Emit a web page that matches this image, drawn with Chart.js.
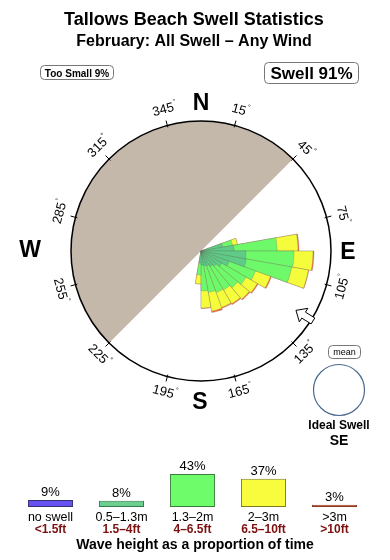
<!DOCTYPE html>
<html>
<head>
<meta charset="utf-8">
<script src="https://cdn.jsdelivr.net/npm/chart.js@4"></script>
<style>
    html, body { margin: 0; padding: 0; background: #fff; }
    body { width: 390px; height: 560px; position: relative; overflow: hidden; }
    canvas { position: absolute; }
    #bg { left: 0; top: 0; }
    #rose { left: 71px; top: 121px; }
    #bars { left: 0; top: 440px; }
</style>
</head>
<body>
<canvas id="bg" width="390" height="560"></canvas>
<canvas id="rose" width="260" height="260"></canvas>
<canvas id="bars" width="390" height="120"></canvas>
<script>
/* ROSE DATA: 10 degree bins, 0 = north, clockwise */
const directions = ["0", "10", "20", "30", "40", "50", "60", "70", "80", "90", "100", "110",
    "120", "130", "140", "150", "160", "170", "180", "190", "200", "210", "220", "230",
    "240", "250", "260", "270", "280", "290", "300", "310", "320", "330", "340", "350"];
const swell05to13 = [0, 0, 0, 0, 0, 0, 0, 2.2, 3.3, 4.5, 4.6, 3.0, 2.4, 2.0, 1.8, 1.6, 1.5, 1.4, 1.2,
    0, 0, 0, 0, 0, 0, 0, 0, 0, 0, 0, 0, 0, 0, 0, 0, 0];
const swell13to2 = [0, 0, 0, 0, 0, 0, 0, 1.0, 4.3, 4.8, 4.6, 2.8, 2.8, 2.8, 2.7, 2.8, 2.7, 2.6, 1.2,
    0, 0, 0, 0, 0, 0, 0, 0, 0, 0, 0, 0, 0, 0, 0, 0, 0];
const swell2to3 = [0, 0, 0, 0, 0, 0, 0, 0.5, 2.1, 1.9, 1.7, 1.6, 1.3, 1.5, 1.6, 1.6, 1.9, 1.7, 0.9,
    0, 0, 0, 0, 0, 0, 0, 0, 0, 0, 0, 0, 0, 0, 0, 0, 0];
const swellOver3 = [0, 0, 0, 0, 0, 0, 0, 0, 0.1, 0.1, 0.05, 0.1, 0.1, 0.1, 0.1, 0.1, 0.15, 0.05, 0,
    0, 0, 0, 0, 0, 0, 0, 0, 0, 0, 0, 0, 0, 0, 0, 0, 0];
const roseMax = 13;

/* LEGEND DATA */
const heightBands = ["no swell", "0.5–1.3m", "1.3–2m", "2–3m", ">3m"];
const heightFeet = ["<1.5ft", "1.5–4ft", "4–6.5ft", "6.5–10ft", ">10ft"];
const heightShare = [9, 8, 43, 37, 3];

const tickDegrees = ["15", "45", "75", "105", "135", "165", "195", "225", "255", "285", "315", "345"];

const FONT = '"Liberation Sans", Arial, Helvetica, sans-serif';
const CX = 201, CY = 251, R = 130;
const rad = b => (b - 90) * Math.PI / 180;

/* stack the bands (each dataset drawn from the centre, inner ones on top) */
const bands = [swell05to13, swell13to2, swell2to3, swellOver3];
const stacked = [];
bands.forEach((band, k) => {
    stacked.push(band.map((v, i) => v + (k ? stacked[k - 1][i] : 0)));
});

/* BACKGROUND: titles, compass, land */
const bg = document.getElementById("bg").getContext("2d");

function box(x, y, w, h) {
    bg.beginPath();
    bg.roundRect(x, y, w, h, 4);
    bg.strokeStyle = "#777";
    bg.lineWidth = 1;
    bg.stroke();
}

bg.fillStyle = "#000";
bg.textAlign = "center";
bg.font = "bold 18px " + FONT;
bg.fillText("Tallows Beach Swell Statistics", 194, 25);
bg.font = "bold 16px " + FONT;
bg.fillText("February: All Swell – Any Wind", 194, 46);

box(40.5, 65.5, 73, 14);
bg.font = "bold 10px " + FONT;
bg.fillText("Too Small 9%", 77, 76.5);
box(264.5, 62.5, 94, 21);
bg.font = "bold 17px " + FONT;
bg.fillText("Swell 91%", 311.5, 79);

// land half
bg.beginPath();
bg.moveTo(CX, CY);
bg.arc(CX, CY, R, rad(225), rad(45));
bg.closePath();
bg.fillStyle = "#c4b8ab";
bg.fill();

bg.beginPath();
bg.arc(CX, CY, R, 0, Math.PI * 2);
bg.strokeStyle = "#000";
bg.lineWidth = 1.5;
bg.stroke();

// ticks + degree labels
tickDegrees.forEach(t => {
    const b = Number(t);
    const a = rad(b);
    bg.beginPath();
    bg.moveTo(CX + Math.cos(a) * (R - 2), CY + Math.sin(a) * (R - 2));
    bg.lineTo(CX + Math.cos(a) * (R + 5), CY + Math.sin(a) * (R + 5));
    bg.strokeStyle = "#000";
    bg.lineWidth = 1;
    bg.stroke();

    const lx = CX + Math.cos(a) * 146, ly = CY + Math.sin(a) * 146;
    const rot = (b > 90 && b < 270) ? b - 180 : b;
    bg.save();
    bg.translate(lx, ly);
    bg.rotate(rot * Math.PI / 180);
    bg.font = "13px " + FONT;
    const w = bg.measureText(t).width;
    bg.textAlign = "left";
    bg.textBaseline = "middle";
    bg.fillStyle = "#000";
    bg.fillText(t, -w / 2, 0);
    bg.font = "7px " + FONT;
    bg.fillText("°", w / 2 + 0.5, -5);
    bg.restore();
});

bg.fillStyle = "#000";
bg.textAlign = "center";
bg.textBaseline = "alphabetic";
bg.font = "bold 23px " + FONT;
bg.fillText("N", 201, 110);
bg.fillText("S", 200, 409);
bg.fillText("W", 30, 257);
bg.fillText("E", 348, 259);

// ideal swell arrow
(function () {
    const b = 122 * Math.PI / 180;
    const ux = Math.sin(b), uy = -Math.cos(b);
    const vx = -uy, vy = ux;
    const p = (r, s) => [CX + ux * r + vx * s, CY + uy * r + vy * s];
    const pts = [p(112, 0), p(121, 8), p(121, 3.5), p(132, 3.5), p(132, -3.5), p(121, -3.5), p(121, -8)];
    bg.beginPath();
    pts.forEach((q, i) => i ? bg.lineTo(q[0], q[1]) : bg.moveTo(q[0], q[1]));
    bg.closePath();
    bg.fillStyle = "#fff";
    bg.fill();
    bg.strokeStyle = "#000";
    bg.lineWidth = 1;
    bg.stroke();
})();

// mean indicator
box(328.5, 345.5, 32, 13);
bg.fillStyle = "#000";
bg.font = "9px " + FONT;
bg.fillText("mean", 344.5, 355);
bg.beginPath();
bg.arc(339, 390, 25.5, 0, Math.PI * 2);
bg.strokeStyle = "#4a6a8c";
bg.lineWidth = 1.2;
bg.stroke();
bg.font = "bold 12px " + FONT;
bg.fillText("Ideal Swell", 339, 429);
bg.font = "bold 14px " + FONT;
bg.fillText("SE", 339, 445);

/* ROSE */
const roseColors = ["#5ecb86", "#6ef96a", "#f5fc3c", "#ff6a3d"];
const bandNames = ["0.5–1.3m", "1.3–2m", "2–3m", ">3m"];

new Chart(document.getElementById("rose"), {
    type: "polarArea",
    data: {
        labels: directions,
        datasets: stacked.map((d, k) => ({
            label: bandNames[k],
            data: d,
            backgroundColor: roseColors[k],
            borderColor: "rgba(100,100,100,0.45)",
            borderWidth: ctx => ctx.raw > 0 ? 0.6 : 0
        }))
    },
    options: {
        responsive: false,
        animation: false,
        plugins: { legend: { display: false }, tooltip: { enabled: false } },
        scales: { r: { display: false, min: 0, max: roseMax } }
    }
});

/* LEGEND BARS */
const barLabels = {
    id: "barLabels",
    afterDatasetsDraw(chart) {
        const ctx = chart.ctx;
        const meta = chart.getDatasetMeta(0);
        ctx.save();
        ctx.textAlign = "center";
        meta.data.forEach((bar, i) => {
            ctx.fillStyle = "#000";
            ctx.font = "13px " + FONT;
            ctx.fillText(heightShare[i] + "%", bar.x, bar.y - 4);
            ctx.font = "12.5px " + FONT;
            ctx.fillText(heightBands[i], bar.x, 81);
            ctx.fillStyle = "#7d1010";
            ctx.font = "bold 12px " + FONT;
            ctx.fillText(heightFeet[i], bar.x, 93);
        });
        ctx.fillStyle = "#000";
        ctx.font = "bold 14px " + FONT;
        ctx.fillText("Wave height as a proportion of time", 195, 109);
        ctx.restore();
    }
};

new Chart(document.getElementById("bars"), {
    type: "bar",
    data: {
        labels: heightBands,
        datasets: [{
            data: heightShare,
            backgroundColor: ["#6652f2", "#6ccf8f", "#6efc6a", "#f8fc3c", "#e8603a"],
            borderColor: ["#33336a", "#2f7a4a", "#3c7c3c", "#7c7c20", "#8a3a20"],
            borderWidth: 1,
            borderSkipped: false,
            barPercentage: 0.635,
            categoryPercentage: 1
        }]
    },
    options: {
        responsive: false,
        animation: false,
        layout: { padding: { left: 15, right: 20, top: 21, bottom: 53 } },
        plugins: { legend: { display: false }, tooltip: { enabled: false } },
        scales: {
            x: { display: false },
            y: { display: false, min: 0, max: 60 }
        }
    },
    plugins: [barLabels]
});
</script>
</body>
</html>
